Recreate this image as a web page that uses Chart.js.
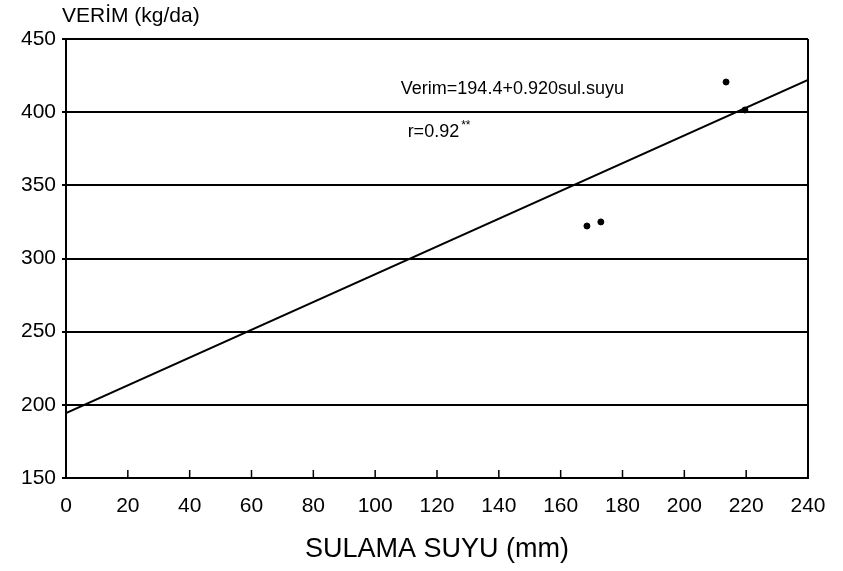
<!DOCTYPE html>
<html>
<head>
<meta charset="utf-8">
<script src="https://cdn.jsdelivr.net/npm/chart.js@4/dist/chart.umd.min.js"></script>
<style>
  html, body { margin: 0; padding: 0; background: #fff; }
  #wrap { width: 843px; height: 571px; position: relative; }
</style>
</head>
<body>
<div id="wrap"><canvas id="c" width="843" height="571"></canvas></div>
<script>
// veriler
const xTickLabels = [0, 20, 40, 60, 80, 100, 120, 140, 160, 180, 200, 220, 240];
const yTickLabels = [150, 200, 250, 300, 350, 400, 450];

// ölçülen noktalar
const obsX = [213.5, 219.6, 168.5, 173.0];
const obsY = [420.6, 401.5, 322.2, 325.0];

// regresyon doğrusu (uçları)
const fitX = [0, 240];
const fitY = [194.4, 422];

const eqText = 'Verim=194.4+0.920sul.suyu';
const rText = 'r=0.92';
const rSup = '**';
const yTitle = 'VERİM (kg/da)';
const xTitle = 'SULAMA SUYU (mm)';

const FONT = '"Liberation Sans", Arial, Helvetica, sans-serif';

// iç taraftaki x çentikleri, metinler
const extras = {
    id: 'extras',
    afterDatasetsDraw(chart) {
        const ctx = chart.ctx;
        const xs = chart.scales.x, ys = chart.scales.y;
        const area = chart.chartArea;
        ctx.save();
        ctx.strokeStyle = '#000';
        ctx.lineWidth = 1.5;
        xTickLabels.forEach(v => {
            if (v === 0 || v === 240) return;
            const px = xs.getPixelForValue(v);
            ctx.beginPath();
            ctx.moveTo(px, area.bottom);
            ctx.lineTo(px, area.bottom - 8);
            ctx.stroke();
        });

        ctx.fillStyle = '#000';
        ctx.textBaseline = 'middle';
        ctx.textAlign = 'left';
        ctx.font = '18px ' + FONT;
        ctx.fillText(eqText, xs.getPixelForValue(108.3), ys.getPixelForValue(415.8));
        const rx = xs.getPixelForValue(110.5), ry = ys.getPixelForValue(386.5);
        ctx.fillText(rText, rx, ry);
        const w = ctx.measureText(rText).width;
        ctx.font = '12px ' + FONT;
        ctx.fillText(rSup, rx + w + 2, ry - 6);

        ctx.font = '21px ' + FONT;
        ctx.fillText(yTitle, 62, 16);
        ctx.restore();
    }
};

const ctx = document.getElementById('c').getContext('2d');
new Chart(ctx, {
    type: 'scatter',
    data: {
        datasets: [
            {
                label: 'fit',
                data: fitX.map((x, i) => ({ x: x, y: fitY[i] })),
                showLine: true,
                borderColor: '#000',
                borderWidth: 2,
                pointRadius: 0,
                fill: false
            },
            {
                label: 'obs',
                data: obsX.map((x, i) => ({ x: x, y: obsY[i] })),
                backgroundColor: '#000',
                borderColor: '#000',
                pointRadius: 3,
                showLine: false
            }
        ]
    },
    options: {
        responsive: false,
        animation: false,
        devicePixelRatio: 1,
        layout: { padding: { left: 0, right: 35, top: 39, bottom: 0 } },
        plugins: {
            legend: { display: false },
            tooltip: { enabled: false },
            title: { display: false }
        },
        scales: {
            x: {
                type: 'linear',
                min: 0,
                max: 240,
                afterBuildTicks: s => { s.ticks = xTickLabels.map(v => ({ value: v })); },
                afterFit: s => { s.height = 93; },
                grid: {
                    drawTicks: false,
                    lineWidth: 2,
                    color: c => (c.tick && c.tick.value === 240) ? '#000' : 'rgba(0,0,0,0)'
                },
                border: { display: true, color: '#000', width: 2 },
                ticks: {
                    color: '#000',
                    padding: 16,
                    maxRotation: 0,
                    autoSkip: false,
                    font: { family: FONT, size: 21 }
                },
                title: {
                    display: true,
                    text: xTitle,
                    color: '#000',
                    font: { family: FONT, size: 27 },
                    padding: { top: 0, bottom: 5 }
                }
            },
            y: {
                type: 'linear',
                min: 150,
                max: 450,
                afterBuildTicks: s => { s.ticks = yTickLabels.map(v => ({ value: v })); },
                afterFit: s => { s.width = 66; },
                grid: {
                    drawTicks: true,
                    tickLength: 4,
                    lineWidth: 2,
                    color: '#000'
                },
                border: { display: true, color: '#000', width: 2 },
                ticks: {
                    color: '#000',
                    padding: 6,
                    autoSkip: false,
                    font: { family: FONT, size: 21 }
                }
            }
        }
    },
    plugins: [extras]
});
</script>
</body>
</html>
